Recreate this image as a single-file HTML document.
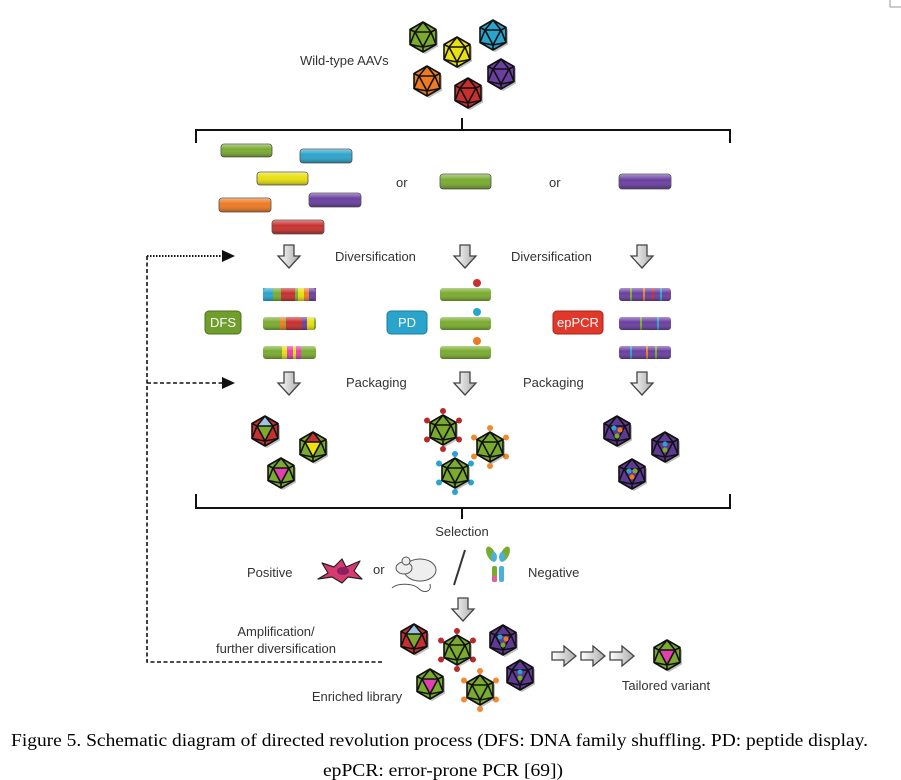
<!DOCTYPE html>
<html><head><meta charset="utf-8"><style>
html,body{margin:0;padding:0;background:#fff;width:901px;height:780px;overflow:hidden}
svg{display:block}
.t{font-family:"Liberation Sans",sans-serif;font-size:13px;fill:#333}
.cap{font-family:"Liberation Serif",serif;font-size:18px;fill:#000}
</style></head><body>
<svg width="901" height="780" viewBox="0 0 901 780" xmlns="http://www.w3.org/2000/svg">
<defs>
<linearGradient id="cg" x1="0" y1="0" x2="0" y2="1"><stop offset="0" stop-color="#fff" stop-opacity=".45"/><stop offset=".4" stop-color="#fff" stop-opacity="0"/><stop offset="1" stop-color="#000" stop-opacity=".3"/></linearGradient>
<linearGradient id="ag" x1="0" y1="0" x2="1" y2="0"><stop offset="0" stop-color="#fff"/><stop offset="1" stop-color="#aaa"/></linearGradient>
<g id="lines" fill="none" stroke="#111" stroke-width="1.6" stroke-linejoin="round">
<polygon points="0,-15 13,-7.5 13,7.5 0,15 -13,7.5 -13,-7.5"/>
<polygon points="-8,-5 8,-5 0,10"/>
<path d="M0,-15L-8,-5M0,-15L8,-5M-13,-7.5L-8,-5M13,-7.5L8,-5M-13,7.5L-8,-5M-13,7.5L0,10M13,7.5L8,-5M13,7.5L0,10M0,15L0,10"/>
</g>
<g id="hex"><polygon points="2,-13 15,-5.5 15,9.5 2,17 -11,9.5 -11,-5.5" fill="#000" opacity=".25"/><polygon points="0,-15 13,-7.5 13,7.5 0,15 -13,7.5 -13,-7.5" fill="currentColor"/></g>
<g id="arD"><path d="M-5,0h10v11h6l-11,12l-11,-12h6z" fill="url(#ag)" stroke="#444" stroke-width="1.3"/></g>
<g id="arR"><path d="M0,-4h12v-6l12,10l-12,10v-6h-12z" fill="url(#ag)" stroke="#444" stroke-width="1.3"/></g>
<g id="dots"><g fill="currentColor"><circle cx="0" cy="-19" r="3"/><circle cx="16" cy="-9.5" r="3"/><circle cx="16" cy="9.5" r="3"/><circle cx="0" cy="19" r="3"/><circle cx="-16" cy="9.5" r="3"/><circle cx="-16" cy="-9.5" r="3"/></g></g>
</defs>

<!-- corner mark -->
<path d="M890,0V7H901" fill="none" stroke="#999" stroke-width="1"/>

<!-- wild type -->
<text class="t" x="300" y="65">Wild-type AAVs</text>
<g><use href="#hex" x="423" y="37" style="color:#7aab2f"/><use href="#lines" x="423" y="37"/></g>
<g><use href="#hex" x="493" y="35" style="color:#2aa4cc"/><use href="#lines" x="493" y="35"/></g>
<g><use href="#hex" x="457" y="52" style="color:#e8e010"/><use href="#lines" x="457" y="52"/></g>
<g><use href="#hex" x="427" y="81" style="color:#ee7a22"/><use href="#lines" x="427" y="81"/></g>
<g><use href="#hex" x="501" y="74" style="color:#6a3fa0"/><use href="#lines" x="501" y="74"/></g>
<g><use href="#hex" x="468" y="93" style="color:#c6302e"/><use href="#lines" x="468" y="93"/></g>

<!-- bracket 1 -->
<path d="M462,118V130M196,143V130H730V143" fill="none" stroke="#111" stroke-width="2"/>

<!-- cylinders -->
<g stroke="#555" stroke-width=".6">
<rect x="221" y="144" width="51" height="13" rx="3" fill="#7aab2f"/><rect x="221" y="144" width="51" height="13" rx="3" fill="url(#cg)"/>
<rect x="300" y="149" width="52" height="14" rx="3" fill="#2aa4cc"/><rect x="300" y="149" width="52" height="14" rx="3" fill="url(#cg)"/>
<rect x="257" y="172" width="51" height="13" rx="3" fill="#e8e010"/><rect x="257" y="172" width="51" height="13" rx="3" fill="url(#cg)"/>
<rect x="219" y="198" width="52" height="14" rx="3" fill="#ee7a22"/><rect x="219" y="198" width="52" height="14" rx="3" fill="url(#cg)"/>
<rect x="309" y="193" width="52" height="14" rx="3" fill="#6a3fa0"/><rect x="309" y="193" width="52" height="14" rx="3" fill="url(#cg)"/>
<rect x="272" y="220" width="52" height="14" rx="3" fill="#c6302e"/><rect x="272" y="220" width="52" height="14" rx="3" fill="url(#cg)"/>
<rect x="440" y="174" width="51" height="15" rx="3" fill="#7aab2f"/><rect x="440" y="174" width="51" height="15" rx="3" fill="url(#cg)"/>
<rect x="619" y="174" width="52" height="15" rx="3" fill="#6a3fa0"/><rect x="619" y="174" width="52" height="15" rx="3" fill="url(#cg)"/>
</g>
<text class="t" x="396" y="187">or</text>
<text class="t" x="549" y="187">or</text>

<!-- diversification arrows -->
<use href="#arD" x="289" y="245"/><use href="#arD" x="465" y="245"/><use href="#arD" x="642" y="245"/>
<text class="t" x="335" y="261">Diversification</text>
<text class="t" x="511" y="261">Diversification</text>

<!-- feedback lines -->
<path d="M147,256H222" stroke="#111" stroke-width="2" stroke-dasharray="1.5,1.5" fill="none"/>
<path d="M222,250L235,256L222,262z" fill="#111"/>
<path d="M147,383H222" stroke="#111" stroke-width="1.6" stroke-dasharray="4,2.5" fill="none"/>
<path d="M222,377L235,383L222,389z" fill="#111"/>
<path d="M147,256V662H383" stroke="#111" stroke-width="1.6" stroke-dasharray="4,2.5" fill="none"/>

<!-- method boxes -->
<rect x="205" y="311" width="36" height="23" rx="4" fill="#6f9e2c" stroke="#4d7020"/>
<text x="223" y="327" text-anchor="middle" font-family="Liberation Sans" font-size="13" fill="#fff">DFS</text>
<rect x="387" y="311" width="40" height="23" rx="4" fill="#2aa4cc" stroke="#1d7d9d"/>
<text x="407" y="327" text-anchor="middle" font-family="Liberation Sans" font-size="13" fill="#fff">PD</text>
<rect x="553" y="311" width="50" height="23" rx="4" fill="#e0382a" stroke="#a82418"/>
<text x="578" y="327" text-anchor="middle" font-family="Liberation Sans" font-size="13" fill="#fff">epPCR</text>

<!-- DFS bars -->
<g>
<rect x="263" y="288" width="53" height="13" rx="3" fill="#7aab2f"/>
<rect x="263" y="288" width="10" height="13" fill="#2aa4cc"/><rect x="281" y="288" width="14" height="13" fill="#c6302e"/><rect x="298" y="288" width="6" height="13" fill="#e8e010"/><rect x="304" y="288" width="5" height="13" fill="#ee7a22"/><rect x="309" y="288" width="7" height="13" fill="#6a3fa0"/>
<rect x="263" y="288" width="53" height="13" rx="3" fill="url(#cg)"/>
<rect x="263" y="317" width="53" height="13" rx="3" fill="#7aab2f"/>
<rect x="280" y="317" width="5" height="13" fill="#ee7a22"/><rect x="286" y="317" width="16" height="13" fill="#c6302e"/><rect x="302" y="317" width="5" height="13" fill="#6a3fa0"/><rect x="307" y="317" width="7" height="13" fill="#e8e010"/>
<rect x="263" y="317" width="53" height="13" rx="3" fill="url(#cg)"/>
<rect x="263" y="346" width="53" height="13" rx="3" fill="#7aab2f"/>
<rect x="282" y="346" width="5" height="13" fill="#e8e010"/><rect x="287" y="346" width="6" height="13" fill="#e040b0"/><rect x="293" y="346" width="3" height="13" fill="#e8e010"/><rect x="296" y="346" width="5" height="13" fill="#e040b0"/>
<rect x="263" y="346" width="53" height="13" rx="3" fill="url(#cg)"/>
</g>
<!-- PD bars -->
<g>
<rect x="440" y="288" width="51" height="13" rx="3" fill="#7aab2f"/><rect x="440" y="288" width="51" height="13" rx="3" fill="url(#cg)"/>
<rect x="440" y="317" width="51" height="13" rx="3" fill="#7aab2f"/><rect x="440" y="317" width="51" height="13" rx="3" fill="url(#cg)"/>
<rect x="440" y="346" width="51" height="13" rx="3" fill="#7aab2f"/><rect x="440" y="346" width="51" height="13" rx="3" fill="url(#cg)"/>
<circle cx="477" cy="283" r="4" fill="#c6302e"/><circle cx="477" cy="312" r="4" fill="#2aa4cc"/><circle cx="477" cy="341" r="4" fill="#ee7a22"/>
</g>
<!-- ep bars -->
<g>
<rect x="619" y="288" width="52" height="13" rx="3" fill="#6a3fa0"/><rect x="619" y="317" width="52" height="13" rx="3" fill="#6a3fa0"/><rect x="619" y="346" width="52" height="13" rx="3" fill="#6a3fa0"/>
<rect x="630" y="288" width="2" height="13" fill="#7aab2f"/><rect x="643" y="288" width="2" height="13" fill="#ee7a22"/><rect x="652" y="288" width="2" height="13" fill="#c6302e"/><rect x="660" y="288" width="2" height="13" fill="#2aa4cc"/>
<rect x="640" y="317" width="2" height="13" fill="#7aab2f"/><rect x="657" y="317" width="2" height="13" fill="#2aa4cc"/>
<rect x="630" y="346" width="2" height="13" fill="#2aa4cc"/><rect x="646" y="346" width="2" height="13" fill="#ee7a22"/><rect x="655" y="346" width="2" height="13" fill="#7aab2f"/>
<rect x="619" y="288" width="52" height="13" rx="3" fill="url(#cg)"/><rect x="619" y="317" width="52" height="13" rx="3" fill="url(#cg)"/><rect x="619" y="346" width="52" height="13" rx="3" fill="url(#cg)"/>
</g>

<!-- packaging -->
<use href="#arD" x="289" y="372"/><use href="#arD" x="465" y="372"/><use href="#arD" x="642" y="372"/>
<text class="t" x="346" y="387">Packaging</text>
<text class="t" x="523" y="387">Packaging</text>

<!-- DFS capsids -->
<g><use href="#hex" x="265" y="431" style="color:#c6302e"/><polygon points="-8,-5 8,-5 0,10" transform="translate(265,431)" fill="#7aab2f"/><polygon points="0,-15 -8,-5 8,-5" transform="translate(265,431)" fill="#9ec4e0"/><use href="#lines" x="265" y="431"/></g>
<g><use href="#hex" x="313" y="447" style="color:#7aab2f"/><polygon points="-8,-5 8,-5 0,10" transform="translate(313,447)" fill="#f0e010"/><polygon points="0,-15 -8,-5 8,-5" transform="translate(313,447)" fill="#c6302e"/><use href="#lines" x="313" y="447"/></g>
<g><use href="#hex" x="281" y="473" style="color:#7aab2f"/><polygon points="-8,-5 8,-5 0,10" transform="translate(281,473)" fill="#e040b0"/><use href="#lines" x="281" y="473"/></g>
<!-- PD capsids -->
<g><use href="#dots" x="443" y="430" style="color:#b82a2a"/><use href="#hex" x="443" y="430" style="color:#7aab2f"/><use href="#lines" x="443" y="430"/></g>
<g><use href="#dots" x="490" y="447" style="color:#ee8a32"/><use href="#hex" x="490" y="447" style="color:#7aab2f"/><use href="#lines" x="490" y="447"/></g>
<g><use href="#dots" x="455" y="473" style="color:#2aa4cc"/><use href="#hex" x="455" y="473" style="color:#7aab2f"/><use href="#lines" x="455" y="473"/></g>
<!-- ep capsids -->
<g><use href="#hex" x="617" y="431" style="color:#5e3a96"/><use href="#lines" x="617" y="431"/><circle cx="614" cy="428" r="2.5" fill="#2aa4cc"/><circle cx="620" cy="430" r="2.5" fill="#ee7a22"/><circle cx="617" cy="436" r="2.5" fill="#7aab2f"/></g>
<g><use href="#hex" x="665" y="447" style="color:#5e3a96"/><use href="#lines" x="665" y="447"/><circle cx="665" cy="444" r="2.5" fill="#2aa4cc"/><circle cx="665" cy="450" r="2.5" fill="#7aab2f"/></g>
<g><use href="#hex" x="632" y="474" style="color:#5e3a96"/><use href="#lines" x="632" y="474"/><circle cx="629" cy="471" r="2.5" fill="#2aa4cc"/><circle cx="635" cy="471" r="2.5" fill="#7aab2f"/><circle cx="632" cy="477" r="2.5" fill="#ee7a22"/></g>

<!-- bracket 2 -->
<path d="M196,494V508H730V494M462,508V519" fill="none" stroke="#111" stroke-width="2"/>
<text class="t" x="462" y="536" text-anchor="middle">Selection</text>

<text class="t" x="247" y="577">Positive</text>
<!-- cell -->
<g transform="translate(340,571)">
<path d="M-22,8 L-12,2 L-18,-8 L-6,-4 L2,-12 L6,-4 L20,-10 L14,0 L22,8 L8,6 L2,12 L-8,6z" fill="#d63a70" stroke="#222" stroke-width="1.2" stroke-linejoin="round"/>
<ellipse cx="3" cy="0" rx="6" ry="4" fill="#8a2060"/>
</g>
<text class="t" x="373" y="574">or</text>
<!-- mouse -->
<g transform="translate(418,570)" stroke="#555" stroke-width="1">
<path d="M-26,18 C-20,12 -4,14 0,18 C6,24 14,22 12,14" fill="none"/>
<ellipse cx="2" cy="0" rx="16" ry="11" fill="#eee"/>
<ellipse cx="-14" cy="-2" rx="8" ry="6" fill="#eee"/>
<circle cx="-12" cy="-9" r="4" fill="#eee"/>
</g>
<path d="M465,550L454,585" stroke="#333" stroke-width="2"/>
<!-- antibody -->
<g transform="translate(498,566)">
<ellipse cx="-7" cy="-12" rx="4" ry="8" fill="#7aab2f" transform="rotate(-25 -7 -12)"/>
<ellipse cx="7" cy="-12" rx="4" ry="8" fill="#7aab2f" transform="rotate(25 7 -12)"/>
<ellipse cx="-4" cy="-9" rx="3" ry="5" fill="#4ab0dc"/><ellipse cx="4" cy="-9" rx="3" ry="5" fill="#4ab0dc"/>
<rect x="-6" y="0" width="5" height="16" rx="2" fill="#7aab2f"/><rect x="1" y="0" width="5" height="16" rx="2" fill="#4ab0dc"/>
<rect x="-6" y="10" width="5" height="6" rx="2" fill="#e060a0"/>
</g>
<text class="t" x="528" y="577">Negative</text>

<use href="#arD" x="463" y="598"/>

<text class="t" x="276" y="636" text-anchor="middle">Amplification/</text>
<text class="t" x="276" y="653" text-anchor="middle">further diversification</text>
<text class="t" x="357" y="701" text-anchor="middle">Enriched library</text>

<!-- enriched capsids -->
<g><use href="#hex" x="414" y="639" style="color:#c6302e"/><polygon points="-8,-5 8,-5 0,10" transform="translate(414,639)" fill="#7aab2f"/><polygon points="0,-15 -8,-5 8,-5" transform="translate(414,639)" fill="#9ec4e0"/><use href="#lines" x="414" y="639"/></g>
<g><use href="#dots" x="457" y="650" style="color:#b82a2a"/><use href="#hex" x="457" y="650" style="color:#7aab2f"/><use href="#lines" x="457" y="650"/></g>
<g><use href="#hex" x="503" y="640" style="color:#5e3a96"/><use href="#lines" x="503" y="640"/><circle cx="500" cy="637" r="2.5" fill="#2aa4cc"/><circle cx="506" cy="639" r="2.5" fill="#ee7a22"/><circle cx="503" cy="645" r="2.5" fill="#7aab2f"/></g>
<g><use href="#hex" x="430" y="684" style="color:#7aab2f"/><polygon points="-8,-5 8,-5 0,10" transform="translate(430,684)" fill="#e040b0"/><use href="#lines" x="430" y="684"/></g>
<g><use href="#dots" x="480" y="690" style="color:#ee8a32"/><use href="#hex" x="480" y="690" style="color:#7aab2f"/><use href="#lines" x="480" y="690"/></g>
<g><use href="#hex" x="520" y="675" style="color:#5e3a96"/><use href="#lines" x="520" y="675"/><circle cx="520" cy="672" r="2.5" fill="#2aa4cc"/><circle cx="520" cy="678" r="2.5" fill="#7aab2f"/></g>

<use href="#arR" x="552" y="656"/><use href="#arR" x="581" y="656"/><use href="#arR" x="610" y="656"/>
<g><use href="#hex" x="667" y="655" style="color:#7aab2f"/><polygon points="-8,-5 8,-5 0,10" transform="translate(667,655)" fill="#e040b0"/><use href="#lines" x="667" y="655"/></g>
<text class="t" x="666" y="690" text-anchor="middle">Tailored variant</text>

<!-- caption -->
<text class="cap" x="11" y="746" textLength="857" lengthAdjust="spacingAndGlyphs">Figure 5. Schematic diagram of directed revolution process (DFS: DNA family shuffling. PD: peptide display.</text>
<text class="cap" x="323" y="776" textLength="240" lengthAdjust="spacingAndGlyphs">epPCR: error-prone PCR [69])</text>
</svg>
</body></html>
